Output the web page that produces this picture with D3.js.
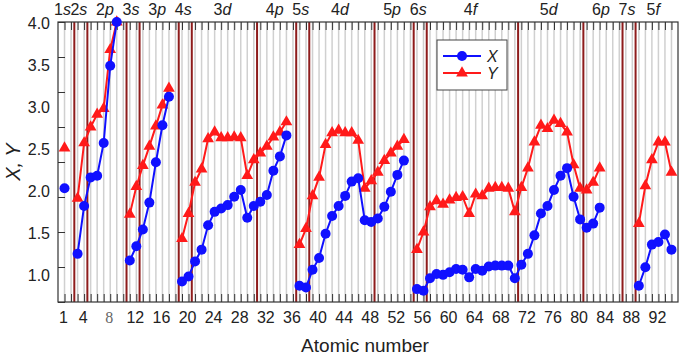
<!DOCTYPE html>
<html>
<head>
<meta charset="utf-8">
<script src="https://cdn.jsdelivr.net/npm/d3@7"></script>
<style>
  body { margin: 0; background: #fff; }
  text { font-family: "Liberation Sans", Arial, sans-serif; fill: #222; }
</style>
</head>
<body>
<div id="chart"></div>
<script>
// atomic numbers 1..94, null where the element is not plotted
const atomicNumbers = d3.range(1, 95);

const xValues = [
  2.02, null, 1.24, 1.81, 2.15, 2.17, 2.56, 3.48, 4.00, null,
  1.16, 1.33, 1.53, 1.85, 2.33, 2.77, 3.11, null, 0.91, 0.97,
  1.15, 1.29, 1.58, 1.74, 1.78, 1.82, 1.92, 2.00, 1.67, 1.81,
  1.86, 1.94, 2.23, 2.40, 2.65, null, 0.86, 0.84, 1.05, 1.19,
  1.48, 1.69, 1.81, 1.93, 2.10, 2.14, 1.64, 1.62, 1.66, 1.80,
  1.98, 2.18, 2.35, null, 0.82, 0.80, 0.95, 1.00, 0.99, 1.02,
  1.06, 1.05, 0.96, 1.06, 1.04, 1.09, 1.10, 1.10, 1.10, 0.95,
  1.11, 1.24, 1.46, 1.72, 1.81, 2.00, 2.17, 2.26, 1.92, 1.65,
  1.55, 1.60, 1.79, null, null, null, null, null, 0.86, 1.08,
  1.35, 1.38, 1.47, 1.29
];

const yValues = [
  2.50, null, 1.90, 2.56, 2.75, 2.90, 2.97, 3.67, 4.00, null,
  1.71, 2.04, 2.29, 2.52, 2.76, 3.01, 3.21, null, 1.42, 1.72,
  2.09, 2.25, 2.61, 2.69, 2.62, 2.62, 2.63, 2.62, 2.17, 2.36,
  2.44, 2.52, 2.63, 2.69, 2.81, null, 1.35, 1.54, 1.93, 2.15,
  2.54, 2.68, 2.71, 2.68, 2.68, 2.59, 2.02, 2.11, 2.21, 2.35,
  2.44, 2.52, 2.60, null, 1.29, 1.50, 1.80, 1.87, 1.83, 1.88,
  1.91, 1.92, 1.72, 1.95, 1.93, 2.02, 2.03, 2.03, 2.02, 1.74,
  2.03, 2.26, 2.57, 2.77, 2.73, 2.83, 2.79, 2.69, 2.30, 2.02,
  2.00, 2.09, 2.26, null, null, null, null, null, 1.60, 2.05,
  2.36, 2.57, 2.57, 2.21
];

// subshells: name and last atomic number of each block
const shellNames = ['1s', '2s', '2p', '3s', '3p', '4s', '3d', '4p', '5s', '4d', '5p', '6s', '4f', '5d', '6p', '7s', '5f'];
const shellEnds  = [2, 4, 10, 12, 18, 20, 30, 36, 38, 48, 54, 56, 70, 80, 86, 88, 94];

const xTickLabels = [1, 4, 8, 12, 16, 20, 24, 28, 32, 36, 40, 44, 48, 52, 56, 60, 64, 68, 72, 76, 80, 84, 88, 92];
const yTickLabels = [1.0, 1.5, 2.0, 2.5, 3.0, 3.5, 4.0];

const width = 685;
const height = 357;
const margin = {top: 22, right: 7, bottom: 55, left: 58};

const svg = d3.select('#chart')
  .append('svg')
  .attr('width', width)
  .attr('height', height);

const x = d3.scaleLinear()
  .domain([0, 95])
  .range([margin.left, width - margin.right]);

const y = d3.scaleLinear()
  .domain([4 - 10 / 3, 4])
  .range([height - margin.bottom, margin.top]);

const plotTop = margin.top, plotBottom = height - margin.bottom;

// light grey line at every element
svg.append('g')
  .selectAll('line')
  .data(atomicNumbers)
  .join('line')
  .attr('x1', d => x(d)).attr('x2', d => x(d))
  .attr('y1', plotTop).attr('y2', plotBottom)
  .attr('stroke', '#d0d0d0')
  .attr('stroke-width', 1.5);

// dark red lines between subshell blocks
svg.append('g')
  .selectAll('line')
  .data(shellEnds.slice(0, -1))
  .join('line')
  .attr('x1', d => x(d + 0.5)).attr('x2', d => x(d + 0.5))
  .attr('y1', plotTop).attr('y2', plotBottom)
  .attr('stroke', '#8e1c1c')
  .attr('stroke-width', 2);

// inner tick marks, top and bottom
svg.append('g')
  .attr('transform', `translate(0, ${plotBottom})`)
  .call(d3.axisTop(x).tickValues(atomicNumbers).tickSize(8).tickFormat(''))
  .call(g => g.select('.domain').remove())
  .selectAll('line').attr('stroke', '#333');

svg.append('g')
  .attr('transform', `translate(0, ${plotTop})`)
  .call(d3.axisBottom(x).tickValues(atomicNumbers).tickSize(8).tickFormat(''))
  .call(g => g.select('.domain').remove())
  .selectAll('line').attr('stroke', '#333');

// y tick marks (evenly spaced, not on the labels)
const yTickMarks = [0.6667, 1.0833, 1.5, 1.9167, 2.3333, 2.75, 3.1667, 3.5833, 4.0];
svg.append('g')
  .attr('transform', `translate(${margin.left}, 0)`)
  .call(d3.axisRight(y).tickValues(yTickMarks).tickSize(7).tickFormat(''))
  .call(g => g.select('.domain').remove())
  .selectAll('line').attr('stroke', '#333');

// frame
svg.append('rect')
  .attr('x', margin.left).attr('y', plotTop)
  .attr('width', width - margin.left - margin.right)
  .attr('height', plotBottom - plotTop)
  .attr('fill', 'none')
  .attr('stroke', '#333')
  .attr('stroke-width', 1.2);

// x tick labels
svg.append('g')
  .selectAll('text')
  .data(xTickLabels)
  .join('text')
  .attr('x', d => x(d) - 1)
  .attr('y', plotBottom + 21)
  .attr('text-anchor', 'middle')
  .style('font-size', '16px')
  .style('font-family', d => d === 8 ? '"Liberation Serif", serif' : null)
  .style('fill', d => d === 8 ? '#666' : null)
  .text(d => d);

// y tick labels
svg.append('g')
  .selectAll('text')
  .data(yTickLabels)
  .join('text')
  .attr('x', margin.left - 8)
  .attr('y', d => y(d) + 7)
  .attr('text-anchor', 'end')
  .style('font-size', '16px')
  .text(d => d.toFixed(1));

// axis titles
svg.append('text')
  .attr('x', x(47.5) - 3)
  .attr('y', height - 5)
  .attr('text-anchor', 'middle')
  .style('font-size', '19px')
  .text('Atomic number');

svg.append('text')
  .attr('transform', `translate(20, ${(plotTop + plotBottom) / 2}) rotate(-90)`)
  .attr('text-anchor', 'middle')
  .style('font-size', '20px')
  .style('font-style', 'italic')
  .text('X, Y');

// subshell labels above the frame
const shellStarts = [0].concat(shellEnds.slice(0, -1));
const shellLabels = svg.append('g')
  .selectAll('text')
  .data(shellNames)
  .join('text')
  .attr('x', (d, i) => i === 0 ? x(1) - 2 : x((shellStarts[i] + shellEnds[i]) / 2 + 0.5) - 2)
  .attr('y', 15)
  .attr('text-anchor', 'middle')
  .style('font-size', '16px');
shellLabels.append('tspan').text(d => d[0]);
shellLabels.append('tspan').style('font-style', 'italic').text(d => d.slice(1));

// series
const xPoints = atomicNumbers.map((z, i) => ({z: z, v: xValues[i]}));
const yPoints = atomicNumbers.map((z, i) => ({z: z, v: yValues[i]}));

const line = d3.line()
  .defined(d => d.v !== null)
  .x(d => x(d.z))
  .y(d => y(d.v));

const blue = '#1010ff';
const red = '#ff1a1a';

svg.append('path')
  .datum(yPoints)
  .attr('d', line)
  .attr('fill', 'none')
  .attr('stroke', red)
  .attr('stroke-width', 2);

svg.append('g')
  .selectAll('path')
  .data(yPoints.filter(d => d.v !== null))
  .join('path')
  .attr('d', d3.symbol(d3.symbolTriangle, 60))
  .attr('transform', d => `translate(${x(d.z)}, ${y(d.v)})`)
  .attr('fill', red);

svg.append('path')
  .datum(xPoints)
  .attr('d', line)
  .attr('fill', 'none')
  .attr('stroke', blue)
  .attr('stroke-width', 2);

svg.append('g')
  .selectAll('circle')
  .data(xPoints.filter(d => d.v !== null))
  .join('circle')
  .attr('cx', d => x(d.z))
  .attr('cy', d => y(d.v))
  .attr('r', 5)
  .attr('fill', blue);

// legend
const legend = svg.append('g').attr('transform', 'translate(437, 40)');
legend.append('rect')
  .attr('width', 70).attr('height', 50)
  .attr('fill', '#fff')
  .attr('stroke', '#444')
  .attr('stroke-width', 1);

const legendItems = [
  {name: 'X', color: blue, marker: 'circle'},
  {name: 'Y', color: red, marker: 'triangle'}
];
legendItems.forEach((item, i) => {
  const ly = 16 + i * 17;
  legend.append('line')
    .attr('x1', 6).attr('x2', 44)
    .attr('y1', ly).attr('y2', ly)
    .attr('stroke', item.color)
    .attr('stroke-width', 2);
  if (item.marker === 'circle') {
    legend.append('circle').attr('cx', 25).attr('cy', ly).attr('r', 5).attr('fill', item.color);
  } else {
    legend.append('path')
      .attr('d', d3.symbol(d3.symbolTriangle, 60))
      .attr('transform', `translate(25, ${ly})`)
      .attr('fill', item.color);
  }
  legend.append('text')
    .attr('x', 50).attr('y', ly + 6)
    .style('font-size', '16px')
    .style('font-style', 'italic')
    .text(item.name);
});
</script>
</body>
</html>
